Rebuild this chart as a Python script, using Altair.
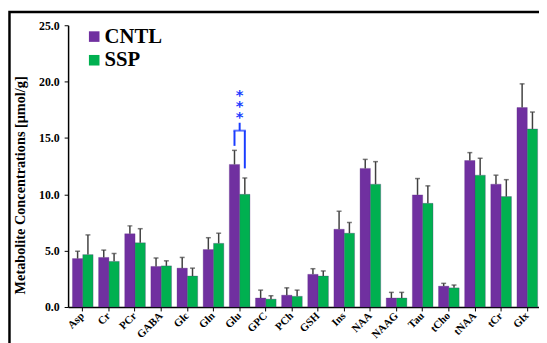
import altair as alt
import pandas as pd

cats = ["Asp", "Cr", "PCr", "GABA", "Glc", "Gln", "Glu", "GPC", "PCh", "GSH",
        "Ins", "NAA", "NAAG", "Tau", "tCho", "tNAA", "tCr", "Glx"]
groups = ["CNTL", "SSP"]
cntl = [4.3, 4.4, 6.5, 3.6, 3.45, 5.1, 12.65, 0.8, 1.05, 2.9,
        6.9, 12.3, 0.8, 9.95, 1.85, 13.0, 10.9, 17.7]
cntl_err = [0.65, 0.65, 0.7, 0.75, 0.95, 1.05, 1.25, 0.7, 0.65, 0.5,
            1.6, 0.8, 0.5, 1.45, 0.25, 0.7, 0.8, 2.1]
ssp = [4.65, 4.05, 5.7, 3.65, 2.75, 5.65, 10.0, 0.7, 0.95, 2.75,
       6.55, 10.9, 0.8, 9.2, 1.7, 11.7, 9.8, 15.8]
ssp_err = [1.75, 0.7, 1.25, 0.45, 0.7, 0.9, 1.45, 0.3, 0.55, 0.45,
           0.95, 2.0, 0.5, 1.55, 0.25, 1.5, 1.5, 1.5]

# significance bracket for Glu
sig_cat = "Glu"
sig_top = 15.65
sig_tick_top = 16.35
sig_left_bottom = 14.3
sig_right_bottom = 12.3
star_level = 18.0
star_text = ["*", "*", "*"]

rows = []
for i, c in enumerate(cats):
    rows.append({"cat": c, "group": "CNTL", "val": cntl[i], "hi": cntl[i] + cntl_err[i]})
    rows.append({"cat": c, "group": "SSP", "val": ssp[i], "hi": ssp[i] + ssp_err[i]})
df = pd.DataFrame(rows)

W, H = 478, 286
SERIF = "Liberation Serif"

x_enc = alt.X("cat:N", sort=cats,
              scale=alt.Scale(domain=cats, range=[0, 481], paddingInner=0.21, paddingOuter=0.166),
              axis=alt.Axis(title=None, labelAngle=315, labelAlign="right", labelBaseline="middle",
                            labelFont=SERIF, labelFontWeight="bold", labelFontSize=11,
                            labelColor="black", labelPadding=3, tickSize=4, tickColor="black",
                            domainColor="black", domainWidth=1.5, labelOverlap=False))
xo_enc = alt.XOffset("group:N", scale=alt.Scale(domain=groups, paddingInner=0, paddingOuter=0))
y_scale = alt.Scale(domain=[0, 25], nice=False)

base = alt.Chart(df)

bars = base.mark_bar(stroke="#5a2a80", strokeWidth=0.3).encode(
    x=x_enc,
    xOffset=xo_enc,
    y=alt.Y("val:Q", scale=y_scale,
            axis=alt.Axis(title="Metabolite Concentrations [μmol/g]", values=[0, 5, 10, 15, 20, 25],
                          format=".1f", grid=False, labelFont=SERIF, labelFontWeight="bold",
                          labelFontSize=12, labelColor="black", tickSize=4, tickColor="black",
                          domainColor="black", domainWidth=1.5, labelPadding=5,
                          titleFont=SERIF, titleFontWeight="bold", titleFontSize=14.5,
                          titleColor="black", titleBaseline="middle", titleAnchor="middle",
                          titleX=-48, titleY=162)),
    color=alt.Color("group:N", scale=alt.Scale(domain=groups, range=["#7030A0", "#00B050"]),
                    legend=alt.Legend(title=None, orient="none", legendX=16, legendY=1,
                                      symbolType="square", symbolSize=115, symbolStrokeWidth=0,
                                      labelFont=SERIF, labelFontWeight="bold", labelFontSize=21,
                                      labelColor="black", rowPadding=2, padding=0, labelOffset=0)),
)

err_rule = base.mark_rule(color="#404040", strokeWidth=1.5).encode(
    x=alt.X("cat:N", sort=cats), xOffset=xo_enc,
    y=alt.Y("val:Q", scale=y_scale), y2="hi:Q")
err_cap = base.mark_tick(color="#404040", size=5, thickness=1.5).encode(
    x=alt.X("cat:N", sort=cats), xOffset=xo_enc,
    y=alt.Y("hi:Q", scale=y_scale))

blue = "#1a3cff"
sig_v = alt.Chart(pd.DataFrame({
    "cat": [sig_cat, sig_cat], "group": groups,
    "y1": [sig_left_bottom, sig_right_bottom], "y2": [sig_top, sig_top]})).mark_rule(
    color=blue, strokeWidth=2).encode(
    x=alt.X("cat:N", sort=cats), xOffset=xo_enc,
    y=alt.Y("y1:Q", scale=y_scale), y2="y2:Q")
sig_c = alt.Chart(pd.DataFrame({"cat": [sig_cat], "y1": [sig_top], "y2": [sig_tick_top]})).mark_rule(
    color=blue, strokeWidth=2).encode(
    x=alt.X("cat:N", sort=cats), y=alt.Y("y1:Q", scale=y_scale), y2="y2:Q")
sig_h = alt.Chart(pd.DataFrame({"cat": [sig_cat], "y": [sig_top]})).mark_tick(
    color=blue, size=12.6, thickness=2).encode(
    x=alt.X("cat:N", sort=cats), y=alt.Y("y:Q", scale=y_scale))
stars = alt.Chart(pd.DataFrame({"cat": [sig_cat], "y": [star_level]})).mark_text(
    color=blue, font="DejaVu Sans", fontWeight="bold", fontSize=15, baseline="middle",
    lineHeight=11, dy=-9, text=star_text).encode(
    x=alt.X("cat:N", sort=cats), y=alt.Y("y:Q", scale=y_scale))

frame = alt.Chart(alt.Data(values=[{}])).mark_rect(
    filled=False, stroke="black", strokeWidth=2.5).encode(
    x=alt.value(-59.5), y=alt.value(-13.5), x2=alt.value(W + 40), y2=alt.value(H + 100))

chart = alt.layer(frame, bars, err_rule, err_cap, sig_v, sig_c, sig_h, stars).properties(
    width=W, height=H,
    autosize=alt.AutoSizeParams(type="none"),
    padding={"left": 61, "top": 15, "right": 0, "bottom": 34},
).configure_view(stroke=None)

chart.save("out.html", embed_options={"renderer": "svg", "actions": False})
